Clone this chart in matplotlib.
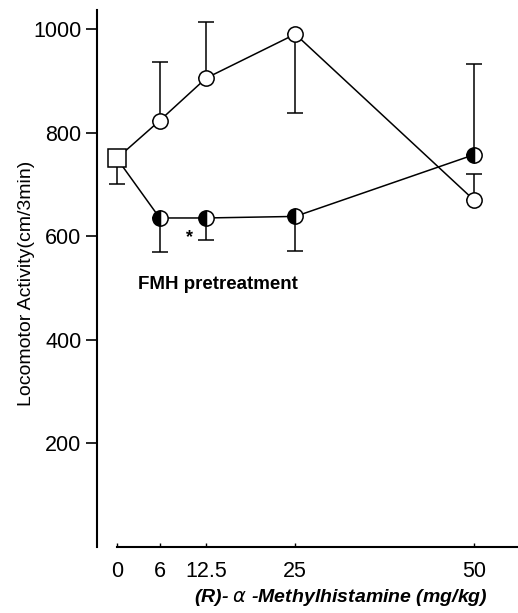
import numpy as np
import matplotlib.pyplot as plt

plt.rcParams['font.family'] = ['Liberation Sans', 'DejaVu Sans']

# dose of (R)-alpha-methylhistamine, mg/kg
doses = [0, 6, 12.5, 25, 50]

# control group (open circles), first point is the shared baseline square
control = [750, 823, 905, 990, 670]
control_err_lo = [0, 0, 0, 153, 0]
control_err_hi = [0, 113, 109, 0, 50]

# FMH pretreatment group (half filled circles)
fmh = [750, 635, 635, 638, 757]
fmh_err_lo = [50, 66, 43, 67, 0]
fmh_err_hi = [0, 0, 0, 0, 175]

fig = plt.figure(figsize=(5.18, 6.13), dpi=100)
ax = fig.add_axes([0.187, 0.108, 0.813, 0.876])

lw = 1.1
# control line + error bars
ax.errorbar(doses[1:], control[1:], yerr=[control_err_lo[1:], control_err_hi[1:]],
            fmt='none', ecolor='black', elinewidth=lw, capsize=6, capthick=lw, zorder=2)
ax.plot(doses, control, color='black', lw=lw, zorder=3)
ax.plot(doses[1:], control[1:], 'o', ms=11, mfc='white', mec='black', mew=lw, zorder=4)

# FMH line + error bars
ax.errorbar(doses, fmh, yerr=[fmh_err_lo, fmh_err_hi],
            fmt='none', ecolor='black', elinewidth=lw, capsize=6, capthick=lw, zorder=2)
ax.plot(doses, fmh, color='black', lw=lw, zorder=3)
ax.plot(doses[1:], fmh[1:], 'o', ms=11, fillstyle='left', mfc='black', mfcalt='white',
        mec='black', mew=lw, zorder=4)

# baseline square
ax.plot(doses[0], control[0], 's', ms=13, mfc='white', mec='black', mew=lw, zorder=5)

ax.text(10.2, 598, '*', fontsize=13, fontweight='bold', ha='center', va='center')
ax.text(2.9, 507, 'FMH pretreatment', fontsize=13.5, fontweight='bold', ha='left', va='center')

ax.set_xlim(-2.8, 56.2)
ax.set_ylim(0, 1037)
ax.spines['top'].set_visible(False)
ax.spines['right'].set_visible(False)
ax.spines['bottom'].set_bounds(0, 56.2)
ax.spines['left'].set_linewidth(1.5)
ax.spines['bottom'].set_linewidth(1.5)

ax.set_xticks(doses)
ax.set_xticklabels(['0', '6', '12.5', '25', '50'])
ax.set_yticks([200, 400, 600, 800, 1000])
ax.tick_params(axis='x', direction='in', length=3, width=1, labelsize=15.5, pad=10)
ax.tick_params(axis='y', direction='out', length=8, width=1.2, labelsize=15.5, pad=3)

fig.text(27 / 518, 1 - 283 / 613, 'Locomotor Activity(cm/3min)', fontsize=14,
         rotation=90, ha='center', va='center')
fig.text(341 / 518, 1 - 598 / 613, r'(R)- $\alpha$ -Methylhistamine (mg/kg)', fontsize=14,
         fontweight='bold', fontstyle='italic', ha='center', va='center')

fig.savefig('out.png', dpi=100)
